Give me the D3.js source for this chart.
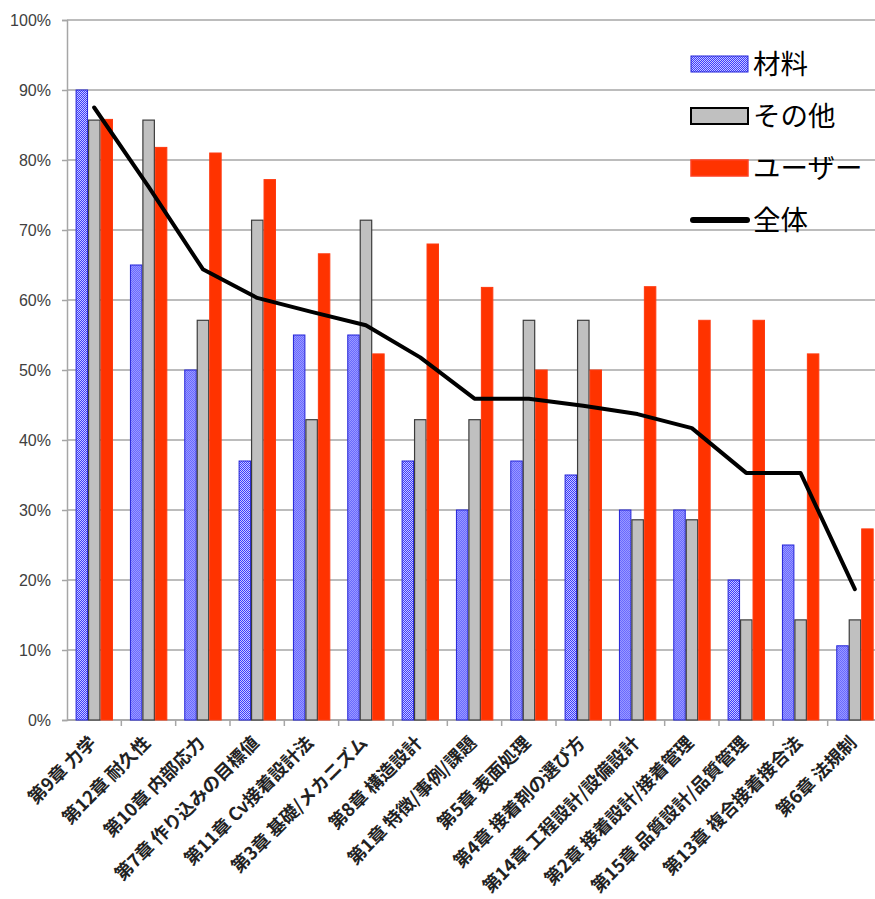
<!DOCTYPE html>
<html>
<head>
<meta charset="utf-8">
<script src="https://cdn.jsdelivr.net/npm/d3@7"></script>
<style>
  html, body { margin: 0; padding: 0; background: #fff; }
  svg { display: block; }
</style>
</head>
<body>
<svg id="chart" width="875" height="899"></svg>
<script>
// Chapters, ordered by overall share
const categories = [
  "第9章 力学", "第12章 耐久性", "第10章 内部応力", "第7章 作り込みの目標値",
  "第11章 Cv接着設計法", "第3章 基礎/メカニズム", "第8章 構造設計", "第1章 特徴/事例/課題",
  "第5章 表面処理", "第4章 接着剤の選び方", "第14章 工程設計/設備設計", "第2章 接着設計/接着管理",
  "第15章 品質設計/品質管理", "第13章 複合接着接合法", "第6章 法規制"
];
const seriesNames = ["材料", "その他", "ユーザー"];
const lineName = "全体";
// Shares (%) per group
const zairyo = [90, 65, 50, 37, 55, 55, 37, 30, 37, 35, 30, 30, 20, 25, 10.6];
const sonota = [85.7, 85.7, 57.1, 71.4, 42.9, 71.4, 42.9, 42.9, 57.1, 57.1, 28.6, 28.6, 14.3, 14.3, 14.3];
const user = [85.8, 81.8, 81.0, 77.2, 66.6, 52.3, 68.0, 61.8, 50, 50, 61.9, 57.1, 57.1, 52.3, 27.3];
const zentai = [87.5, 76.2, 64.4, 60.3, 58.3, 56.4, 51.8, 45.9, 45.9, 44.9, 43.7, 41.7, 35.3, 35.3, 18.7];
const yTicks = [0, 10, 20, 30, 40, 50, 60, 70, 80, 90, 100];

const svg = d3.select("#chart");
const plotLeft = 67, plotRight = 882, plotTop = 20, plotBottom = 720;

const x = d3.scaleBand().domain(categories).range([plotLeft, plotRight]).paddingInner(0).paddingOuter(0);
const xs = d3.scaleBand().domain(seriesNames).range([8.6, 46]).padding(0);
const y = d3.scaleLinear().domain([0, 100]).range([plotBottom, plotTop]);

// Dotted blue fill
const defs = svg.append("defs");
const pat = defs.append("pattern").attr("id", "dots").attr("patternUnits", "userSpaceOnUse")
  .attr("width", 2).attr("height", 2);
pat.append("rect").attr("width", 2).attr("height", 2).attr("fill", "#c8c8ff");
pat.append("rect").attr("width", 1).attr("height", 1).attr("fill", "#3a3aff");
pat.append("rect").attr("x", 1).attr("y", 1).attr("width", 1).attr("height", 1).attr("fill", "#3a3aff");

// Gridlines
svg.append("g").selectAll("line").data(yTicks).join("line")
  .attr("x1", plotLeft).attr("x2", 875)
  .attr("y1", d => y(d)).attr("y2", d => y(d))
  .attr("stroke", "#a6a6a6").attr("stroke-width", 1.5);

// Y axis
const yAxis = d3.axisLeft(y).tickValues(yTicks).tickFormat(d => d + "%").tickSize(5).tickPadding(11);
const gy = svg.append("g").attr("transform", `translate(${plotLeft},0)`).call(yAxis);
gy.select(".domain").attr("stroke", "#a6a6a6").attr("stroke-width", 1.5);
gy.selectAll(".tick line").attr("stroke", "#a6a6a6").attr("stroke-width", 1.5);
gy.selectAll("text").attr("font-family", "Liberation Sans, Arial, sans-serif")
  .attr("font-size", 16).attr("fill", "#404040");

// X axis ticks at band boundaries
const gx = svg.append("g");
gx.selectAll("line").data(categories).join("line")
  .attr("x1", d => x(d) + x.bandwidth()).attr("x2", d => x(d) + x.bandwidth())
  .attr("y1", plotBottom).attr("y2", plotBottom + 6)
  .attr("stroke", "#a6a6a6").attr("stroke-width", 1.5);
gx.append("line").attr("x1", plotLeft).attr("x2", 875).attr("y1", plotBottom).attr("y2", plotBottom)
  .attr("stroke", "#a6a6a6").attr("stroke-width", 1.5);

// Bars
const rows = categories.map((c, i) => ({ c, vals: [zairyo[i], sonota[i], user[i]] }));
const styles = [
  { fill: "url(#dots)", stroke: "#2323d8", sw: 1 },
  { fill: "#c0c0c0", stroke: "#3c3c3c", sw: 1.2 },
  { fill: "#ff3300", stroke: "#ff3a10", sw: 1 }
];
const groups = svg.append("g").selectAll("g").data(rows).join("g")
  .attr("transform", d => `translate(${x(d.c)},0)`);
groups.selectAll("rect").data(d => d.vals.map((v, k) => ({ v, k }))).join("rect")
  .attr("x", d => xs(seriesNames[d.k]) + 0.5)
  .attr("width", xs.bandwidth() - 1)
  .attr("y", d => y(d.v))
  .attr("height", d => plotBottom - y(d.v))
  .attr("fill", d => styles[d.k].fill)
  .attr("stroke", d => styles[d.k].stroke)
  .attr("stroke-width", d => styles[d.k].sw);

// Overall line
const line = d3.line()
  .x((d, i) => x(categories[i]) + x.bandwidth() / 2)
  .y(d => y(d));
svg.append("path").datum(zentai).attr("d", line)
  .attr("fill", "none").attr("stroke", "#000").attr("stroke-width", 4)
  .attr("stroke-linejoin", "round").attr("stroke-linecap", "round");

// Category labels
svg.append("g").selectAll("text").data(categories).join("text")
  .attr("transform", d => `translate(${x(d) + x.bandwidth() / 2 + 3},${plotBottom + 24}) rotate(-45)`)
  .attr("text-anchor", "end")
  .attr("font-family", "Noto Sans CJK JP, sans-serif")
  .attr("font-weight", 700)
  .attr("font-size", 18)
  .attr("fill", "#222")
  .text(d => d);

// Legend
const legend = svg.append("g").attr("transform", "translate(691,64)");
const legendItems = [
  { name: seriesNames[0], type: "rect", s: styles[0] },
  { name: seriesNames[1], type: "rect", s: { fill: "#c0c0c0", stroke: "#000", sw: 2 } },
  { name: seriesNames[2], type: "rect", s: { fill: "#ff3300", stroke: "#ff4020", sw: 1.5 } },
  { name: lineName, type: "line" }
];
const li = legend.selectAll("g").data(legendItems).join("g")
  .attr("transform", (d, i) => `translate(0,${i * 52})`);
li.filter(d => d.type === "rect").append("rect")
  .attr("x", 0).attr("y", -8).attr("width", 57).attr("height", 16)
  .attr("fill", d => d.s.fill).attr("stroke", d => d.s.stroke).attr("stroke-width", d => d.s.sw);
li.filter(d => d.type === "line").append("line")
  .attr("x1", 2).attr("x2", 56).attr("y1", 0).attr("y2", 0)
  .attr("stroke", "#000").attr("stroke-width", 6).attr("stroke-linecap", "round");
li.append("text").attr("x", 62).attr("y", 0).attr("dy", "0.36em")
  .attr("font-family", "Noto Sans CJK JP, sans-serif")
  .attr("font-size", 27.5).attr("fill", "#000")
  .text(d => d.name);
</script>
</body>
</html>
